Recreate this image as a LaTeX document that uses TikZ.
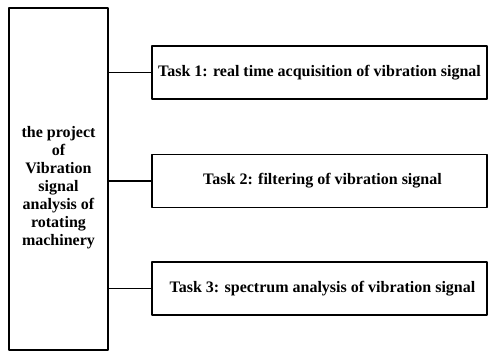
\documentclass[tikz,border=0pt]{standalone}
\usepackage{fontspec}
\setmainfont{Liberation Serif}
\begin{document}
\begin{tikzpicture}[
		x = 1pt,
		y = -1pt,
		line join = round,
		line width = 1.5pt,
		box/.style = {draw, rectangle, inner sep=0pt, font=\bfseries\fontsize{16}{18}\selectfont},
		task/.style = {box, minimum width=335, minimum height=53},
		]
\useasboundingbox	(0,0) rectangle (490,353);
\node[box, minimum width=99, minimum height=342, align=center]	(project) at (58.5,179)
	{\raisebox{-9pt}[\height][\depth]{\begin{tabular}{@{}c@{}}the project\\of\\Vibration\\signal\\analysis of\\rotating\\machinery\end{tabular}}};
\node[task]	(task1) at (319.5,72.5)	{Task 1: real time acquisition of vibration signal};
\node[task]	(task2) at (319.5,181)	{\hspace*{6pt}Task 2: filtering of vibration signal};
\node[task]	(task3) at (319.5,288.5)	{\hspace*{6pt}Task 3: spectrum analysis of vibration signal};
\draw	(project.east |- task1.west) -- (task1.west);
\draw	(project.east |- task2.west) -- (task2.west);
\draw	(project.east |- task3.west) -- (task3.west);
\end{tikzpicture}
\end{document}
